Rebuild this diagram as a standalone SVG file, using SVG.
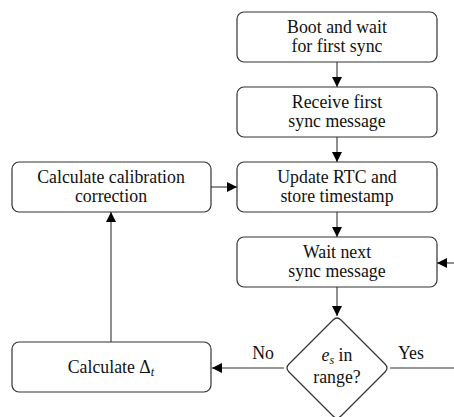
<svg xmlns="http://www.w3.org/2000/svg" width="454" height="417" viewBox="0 0 454 417">
<defs>
<marker id="ah" viewBox="0 0 10 10" refX="10" refY="5" markerWidth="10" markerHeight="10" markerUnits="userSpaceOnUse" orient="auto">
<path d="M0,0 L10,5 L0,10 z" fill="#000"/>
</marker>
<style>
.box{fill:#fff;stroke:#333;stroke-width:1.2}
.t{font-size:17.8px;fill:#111;text-anchor:middle}
.c{fill:none;stroke:#333;stroke-width:1.1}
</style>
</defs>
<rect width="454" height="417" fill="#fff"/>
<g font-family="Liberation Serif">
<g id="connectors">
<path class="c" d="M337,62 V87" marker-end="url(#ah)"/>
<path class="c" d="M337,137 V162" marker-end="url(#ah)"/>
<path class="c" d="M337,212 V237" marker-end="url(#ah)"/>
<path class="c" d="M337,287 V316" marker-end="url(#ah)"/>
<path class="c" d="M211,187 H237" marker-end="url(#ah)"/>
<path class="c" d="M111,342 V212" marker-end="url(#ah)"/>
<path class="c" d="M284,368 H212" marker-end="url(#ah)"/>
<path class="c" d="M390,368 H454"/>
<path class="c" d="M454,263 H437" marker-end="url(#ah)"/>
<text class="t" x="263" y="359">No</text>
<text class="t" x="411" y="359">Yes</text>
</g>
<g id="boot">
<rect class="box" x="237" y="12" width="200" height="50" rx="7"/>
<text class="t" x="337" y="32.5">Boot and wait</text>
<text class="t" x="337" y="51.5">for first sync</text>
</g>
<g id="receive">
<rect class="box" x="237" y="87" width="200" height="50" rx="7"/>
<text class="t" x="337" y="107.5">Receive first</text>
<text class="t" x="337" y="126.5">sync message</text>
</g>
<g id="update">
<rect class="box" x="237" y="162" width="200" height="50" rx="7"/>
<text class="t" x="337" y="182.5">Update RTC and</text>
<text class="t" x="337" y="201.5">store timestamp</text>
</g>
<g id="wait">
<rect class="box" x="237" y="237" width="200" height="50" rx="7"/>
<text class="t" x="337" y="257.5">Wait next</text>
<text class="t" x="337" y="276.5">sync message</text>
</g>
<g id="calib">
<rect class="box" x="12" y="162" width="199" height="50" rx="7"/>
<text class="t" x="111" y="182.5">Calculate calibration</text>
<text class="t" x="111" y="201.5">correction</text>
</g>
<g id="delta">
<rect class="box" x="12" y="342" width="199" height="50" rx="7"/>
<text class="t" x="111" y="373">Calculate Δ<tspan font-style="italic" font-size="12.5" dy="3">t</tspan></text>
</g>
<g id="decision">
<path class="box" d="M333,320 Q337,316 341,320 L385,364 Q389,368 385,372 L341,416 Q337,420 333,416 L289,372 Q285,368 289,364 Z" stroke-linejoin="round"/>
<text class="t" x="337" y="361"><tspan font-style="italic">e</tspan><tspan font-style="italic" font-size="12" dy="2.5">s</tspan><tspan dy="-2.5"> in</tspan></text>
<text class="t" x="337" y="383">range?</text>
</g>
</g>
</svg>
